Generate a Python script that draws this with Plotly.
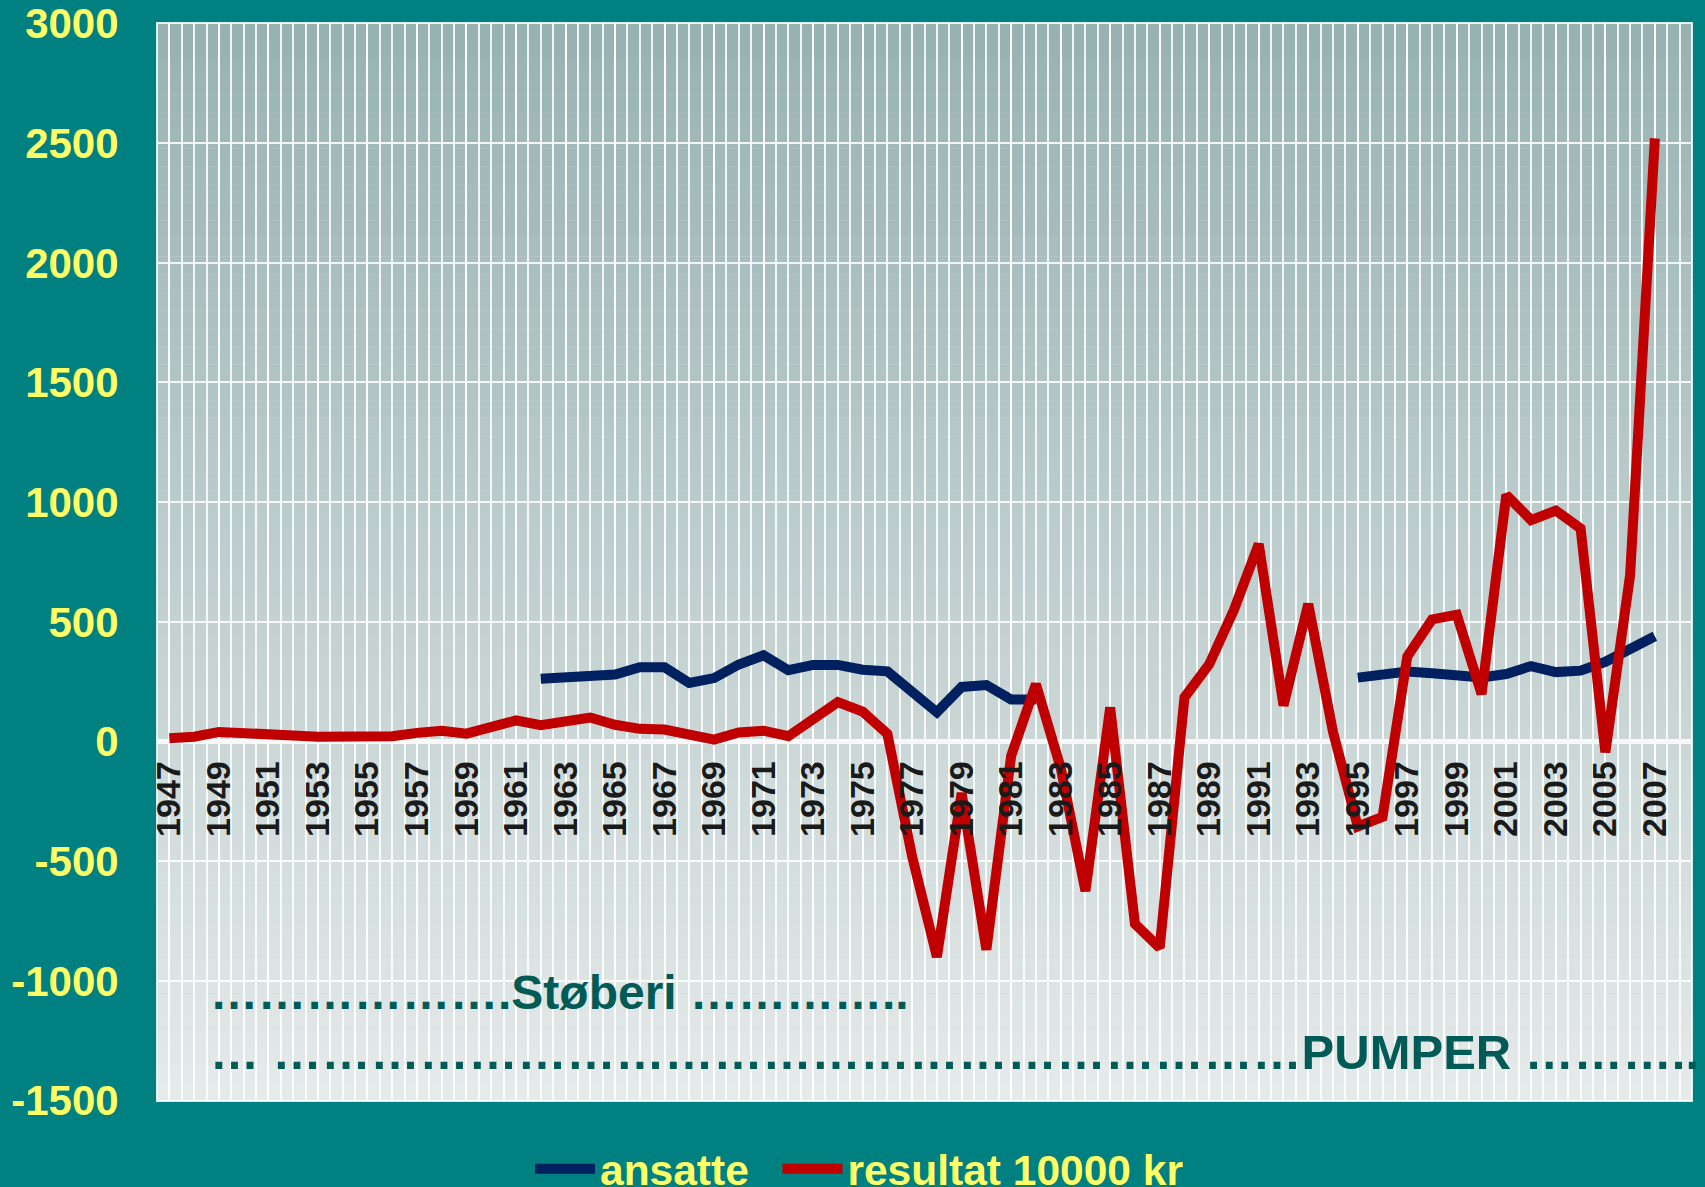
import plotly.graph_objects as go
import numpy as np

# ---------------- data ----------------
years = list(range(1947, 2008))

resultat = [14, 20, 40, 32, 25, 25, 20, 20, 24, 22,          # 1947-1956
            36, 45, 33, 57, 88, 68, 82, 100, 70, 53,          # 1957-1966
            50, 27, 8, 38, 45, 22, 95, 165, 125, 32,          # 1967-1976
            -480, -900, -215, -870, -60, 240, -110, -625, 142, -762,  # 1977-1986
            -862, 184, 323, 550, 825, 150, 575, 40, -355, -315,       # 1987-1996
            355, 510, 530, 198, 1030, 925, 965, 890, -45, 695,        # 1997-2006
            2520]                                                      # 2007

ansatte = [None] * 15 + [                                   # 1947-1961
           262, 270, 274, 280, 310, 310, 245, 265, 322, 360,  # 1962-1971
           298, 320, 320, 300, 293, 212, 122, 228, 236, 175,  # 1972-1981
           175] + [None] * 12 + [                            # 1982, 1983-1994
           267, 278, 292, 285, 280, 268, 282, 315, 290, 296,  # 1995-2004
           333, 385, 440]                                      # 2005-2007

tick_years = list(range(1947, 2008, 2))
tick_labels = [str(y) for y in tick_years]
y_ticks = list(range(-1500, 3001, 500))
y_labels = [str(v) for v in y_ticks]

name_ansatte = "ansatte"
name_resultat = "resultat 10000 kr"
label_stoberi = "\u2026" * 6 + "." + "Støberi " + "\u2026" * 4 + ".."
label_pumper = "\u2026 " + "\u2026" * 21 + "PUMPER " + "\u2026" * 3 + ".."

# ---------------- style ----------------
FONT = "Liberation Sans, Arial, sans-serif"
TEAL = "#008080"
YELLOW = "#FFFF66"
NAVY = "#002060"
RED = "#C00000"
DARKTEAL = "#005a55"
GRID = "rgba(255,255,255,0.85)"
NBSP = "\u00a0"

fig = go.Figure()
fig.add_trace(go.Scatter(x=years, y=ansatte, mode="lines", name=name_ansatte + NBSP * 2,
                         line=dict(color=NAVY, width=10), connectgaps=False))
fig.add_trace(go.Scatter(x=years, y=resultat, mode="lines", name=name_resultat,
                         line=dict(color=RED, width=10)))

# gradient plot background
top = np.array([152, 178, 178])
bot = np.array([229, 234, 234])
n = 60
shapes = []
for i in range(n):
    t = i / (n - 1)
    c = (top * (1 - t) + bot * t).round().astype(int)
    shapes.append(dict(type="rect", xref="paper", yref="paper",
                       x0=0, x1=1, y0=1 - (i + 1) / n, y1=1 - i / n,
                       fillcolor=f"rgb({c[0]},{c[1]},{c[2]})",
                       line=dict(width=0), layer="below"))
shapes.append(dict(type="rect", xref="paper", yref="paper", x0=0, x1=1, y0=0, y1=1,
                   line=dict(color=GRID, width=2), layer="between"))

fig.update_layout(
    width=1705, height=1187,
    margin=dict(l=157, r=13, t=23, b=86, autoexpand=False),
    paper_bgcolor=TEAL, plot_bgcolor="#c8d4d4",
    shapes=shapes,
    showlegend=True,
    legend=dict(orientation="h", xref="container", yref="container",
                x=530 / 1705, xanchor="left", y=0.015, yanchor="middle",
                font=dict(family=FONT, size=42.5, color=YELLOW, weight="bold"),
                bgcolor="rgba(0,0,0,0)", itemwidth=60),
    xaxis=dict(range=[1946.5, 2008.5], anchor="free", position=1 / 3,
               tickmode="array", tickvals=tick_years, ticktext=tick_labels,
               tickangle=-90, ticks="outside", ticklen=5, tickcolor="rgba(0,0,0,0)",
               tickfont=dict(family=FONT, size=34, color="#1a1a1a", weight="bold"),
               showgrid=True, gridcolor=GRID, gridwidth=1.5,
               minor=dict(dtick=0.5, tick0=1946.5, showgrid=True,
                          gridcolor=GRID, gridwidth=1.5),
               showline=False, zeroline=False, fixedrange=True),
    yaxis=dict(range=[-1502, 3002], tickmode="array", tickvals=y_ticks, ticktext=y_labels,
               ticks="outside", ticklen=29, tickcolor="rgba(0,0,0,0)",
               tickfont=dict(family=FONT, size=42, color=YELLOW, weight="bold"),
               showgrid=True, gridcolor=GRID, gridwidth=2,
               zeroline=True, zerolinecolor="#f8f8f8", zerolinewidth=5,
               showline=False, fixedrange=True),
    annotations=[
        dict(text=label_stoberi, xref="paper", yref="y", x=0.033, y=-1050,
             xanchor="left", yanchor="middle", showarrow=False,
             font=dict(family=FONT, size=48, color=DARKTEAL, weight="bold")),
        dict(text=label_pumper, xref="paper", yref="y", x=0.033, y=-1298,
             xanchor="left", yanchor="middle", showarrow=False,
             font=dict(family=FONT, size=49, color=DARKTEAL, weight="bold")),
    ],
)

fig.write_html("out.html", config={"displayModeBar": False},
               post_script="document.body.style.margin='0';")
